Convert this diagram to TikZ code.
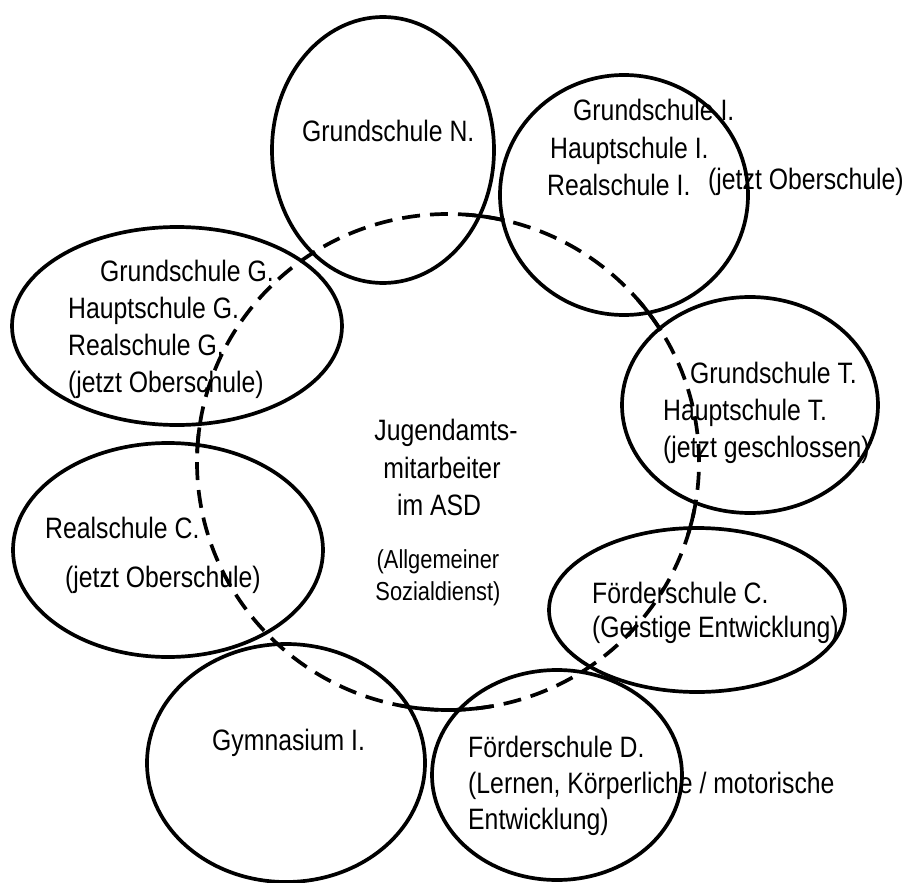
\documentclass[tikz,border=0pt]{standalone}
\usepackage{fontspec}
\setmainfont[FakeStretch=0.84]{Liberation Sans}
\usetikzlibrary{shapes.geometric}
\begin{document}
\begin{tikzpicture}[x=1pt,y=-1pt,line join=round,
  ring/.style={draw,ellipse,line width=3.7pt,inner sep=0pt,outer sep=0pt},
  asdring/.style={draw,ellipse,line width=3.7pt,inner sep=0pt,outer sep=0pt,dash pattern=on 18pt off 10pt},
  solidpart/.style={line width=3.7pt},
  lbl/.style={anchor=base west,inner sep=0pt,font=\fontsize{29.5}{36}\selectfont},
  mid/.style={anchor=base,inner sep=0pt,font=\fontsize{29.5}{36}\selectfont},
  small/.style={anchor=base,inner sep=0pt,font=\fontsize{26}{32}\selectfont}]
\useasboundingbox (0,0) rectangle (906,883);
% central dashed circle
\node[asdring,minimum width=502pt,minimum height=496pt] (asd) at (448,462) {};
\coordinate (ctr) at (448,462);
\foreach \a/\b in {77/86,32/41,-17/-11,-101/-80,172/178}{
  \draw[solidpart] ([shift={(\a:251pt and 248pt)}]ctr) arc[start angle=\a,end angle=\b,x radius=251pt,y radius=248pt];
}
% school ellipses
\node[ring,minimum width=222pt,minimum height=266pt] (eN) at (383,150) {};
\node[ring,minimum width=248pt,minimum height=240pt] (eI) at (624,195) {};
\node[ring,minimum width=330pt,minimum height=198pt] (eG) at (177,326) {};
\node[ring,minimum width=256pt,minimum height=216pt] (eT) at (750,405) {};
\node[ring,minimum width=310pt,minimum height=214pt] (eC) at (168,550) {};
\node[ring,minimum width=296pt,minimum height=164pt] (eFC) at (697,610) {};
\node[ring,minimum width=278pt,minimum height=238pt] (eGym) at (286,763) {};
\node[ring,minimum width=250pt,minimum height=210pt] (eFD) at (557,775) {};
% labels
\node[lbl] (tN) at (302,142) {Grundschule N.};
\node[lbl] (tI1) at (573,121) {Grundschule I.};
\node[lbl] (tI2) at (550,158) {Hauptschule I.};
\node[lbl] (tI3) at (547,195) {Realschule I.};
\node[lbl] (tI4) at (708,189) {(jetzt Oberschule)};
\node[lbl] (tG1) at (100,281) {Grundschule G.};
\node[lbl] (tG2) at (68,318) {Hauptschule G.};
\node[lbl] (tG3) at (68,355) {Realschule G.};
\node[lbl] (tG4) at (68,392) {(jetzt Oberschule)};
\node[lbl] (tT1) at (690,383) {Grundschule T.};
\node[lbl] (tT2) at (663,420) {Hauptschule T.};
\node[lbl] (tT3) at (663,457) {(jetzt geschlossen)};
\node[lbl] (tC1) at (45,538) {Realschule C.};
\node[lbl] (tC2) at (65,587) {(jetzt Oberschule)};
\node[lbl] (tFC1) at (592,603) {Förderschule C.};
\node[lbl] (tFC2) at (592,637) {(Geistige Entwicklung)};
\node[lbl] (tGym) at (212,750) {Gymnasium I.};
\node[lbl] (tFD1) at (468,757) {Förderschule D.};
\node[lbl] (tFD2) at (468,793) {(Lernen, Körperliche / motorische};
\node[lbl] (tFD3) at (468,829) {Entwicklung)};
\node[mid] (j1) at (446,440) {Jugendamts-};
\node[mid] (j2) at (442,478) {mitarbeiter};
\node[mid] (j3) at (439,515) {im ASD};
\node[small] (j4) at (438,568) {(Allgemeiner};
\node[small] (j5) at (438,600) {Sozialdienst)};
\end{tikzpicture}
\end{document}
